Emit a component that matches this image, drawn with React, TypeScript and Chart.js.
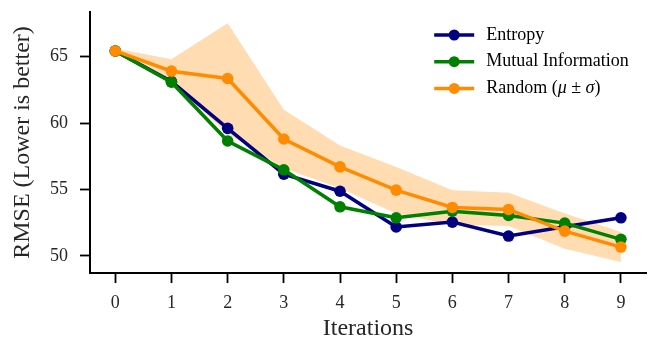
import React, { useEffect, useRef } from "react";
import { Chart, registerables } from "chart.js";

Chart.register(...registerables);

const iterations = [0, 1, 2, 3, 4, 5, 6, 7, 8, 9];
const entropy = [65.42, 63.12, 59.6, 56.15, 54.87, 52.18, 52.55, 51.5, 52.2, 52.87];
const mutualInfo = [65.42, 63.07, 58.65, 56.48, 53.7, 52.87, 53.37, 53.05, 52.47, 51.25];
const randomMean = [65.42, 63.9, 63.35, 58.8, 56.7, 54.95, 53.65, 53.5, 51.87, 50.67];
const randomUpper = [65.6, 64.8, 67.5, 61.0, 58.3, 56.7, 54.95, 54.75, 53.2, 51.8];
const randomLower = [65.25, 63.0, 59.2, 56.6, 55.1, 53.2, 52.35, 52.25, 50.55, 49.55];
const yTicks = [50, 55, 60, 65];

const legendLabels = ["Entropy", "Mutual Information", "Random"];
const colors = ["#000080", "#008000", "#ff8c00"];
const bandColor = "rgba(255,140,0,0.3)";

const FONT = "'Liberation Serif', 'Times New Roman', serif";
const TEXT = "#262626";

const pts = (ys: number[]) => iterations.map((x, i) => ({ x, y: ys[i] }));

const legendPlugin = {
  id: "customLegend",
  afterDatasetsDraw(chart: any) {
    const { ctx, chartArea } = chart;
    const x0 = chartArea.right - 212;
    const rows = [35, 61.7, 88.4];
    ctx.save();
    ctx.font = `18px ${FONT}`;
    ctx.textBaseline = "middle";
    ctx.textAlign = "left";
    legendLabels.forEach((label, i) => {
      const y = rows[i];
      ctx.strokeStyle = colors[i];
      ctx.lineWidth = 3.5;
      ctx.beginPath();
      ctx.moveTo(x0, y);
      ctx.lineTo(x0 + 40, y);
      ctx.stroke();
      ctx.fillStyle = colors[i];
      ctx.beginPath();
      ctx.arc(x0 + 20, y, 5.5, 0, Math.PI * 2);
      ctx.fill();
      ctx.fillStyle = "#000";
      let tx = x0 + 52;
      if (i === 2) {
        const parts: [string, boolean][] = [
          [label + " (", false],
          ["μ", true],
          [" ± ", false],
          ["σ", true],
          [")", false],
        ];
        parts.forEach(([t, it]) => {
          ctx.font = `${it ? "italic " : ""}18px ${FONT}`;
          ctx.fillText(t, tx, y);
          tx += ctx.measureText(t).width;
        });
      } else {
        ctx.fillText(label, tx, y);
      }
    });
    ctx.restore();
  },
};

export default function App() {
  const ref = useRef<HTMLCanvasElement | null>(null);
  useEffect(() => {
    document.body.style.margin = "0";
    const canvas = ref.current!;
    const lineDs = (label: string, data: number[], color: string, order: number) => ({
      label,
      data: pts(data),
      borderColor: color,
      backgroundColor: color,
      borderWidth: 3.5,
      pointRadius: 5.8,
      pointBorderWidth: 0,
      pointBackgroundColor: color,
      fill: false,
      tension: 0,
      order,
    });
    const chart = new Chart(canvas, {
      type: "line",
      data: {
        datasets: [
          lineDs("Random", randomMean, colors[2], 1),
          lineDs("Mutual Information", mutualInfo, colors[1], 2),
          lineDs("Entropy", entropy, colors[0], 3),
          {
            label: "upper",
            data: pts(randomUpper),
            borderWidth: 0,
            borderColor: "transparent",
            pointRadius: 0,
            backgroundColor: bandColor,
            fill: "+1",
            order: 10,
          } as any,
          {
            label: "lower",
            data: pts(randomLower),
            borderWidth: 0,
            borderColor: "transparent",
            pointRadius: 0,
            backgroundColor: bandColor,
            fill: false,
            order: 11,
          } as any,
        ],
      },
      options: {
        responsive: false,
        animation: false,
        devicePixelRatio: 1,
        layout: { padding: { top: 12, right: 4, left: 0, bottom: 0 } },
        plugins: { legend: { display: false }, tooltip: { enabled: false } },
        scales: {
          x: {
            type: "linear",
            min: -0.45,
            max: 9.45,
            afterBuildTicks: (s: any) => {
              s.ticks = iterations.map((v) => ({ value: v }));
            },
            afterFit: (s: any) => {
              s.height = 71;
              s.paddingLeft = 0;
              s.paddingRight = 0;
            },
            grid: {
              drawOnChartArea: false,
              drawTicks: true,
              tickLength: 10,
              tickColor: "#000",
              tickWidth: 1.8,
            },
            border: { display: true, color: "#000", width: 2 },
            ticks: {
              color: TEXT,
              font: { family: FONT, size: 18 },
              padding: 9,
              maxRotation: 0,
              callback: (v: any) => String(v),
            },
            title: {
              display: true,
              text: "Iterations",
              color: TEXT,
              font: { family: FONT, size: 24 },
              padding: { top: 0, bottom: 1 },
            },
          },
          y: {
            type: "linear",
            min: 48.72,
            max: 68.35,
            afterBuildTicks: (s: any) => {
              s.ticks = yTicks.map((v) => ({ value: v }));
            },
            afterFit: (s: any) => {
              s.width = 90;
              s.paddingTop = 0;
              s.paddingBottom = 0;
            },
            grid: {
              drawOnChartArea: false,
              drawTicks: true,
              tickLength: 10,
              tickColor: "#000",
              tickWidth: 1.8,
            },
            border: { display: true, color: "#000", width: 2 },
            ticks: {
              color: TEXT,
              font: { family: FONT, size: 18 },
              padding: 12,
              callback: (v: any) => String(v),
            },
            title: {
              display: true,
              text: "RMSE (Lower is better)",
              color: TEXT,
              font: { family: FONT, size: 24 },
              padding: { top: 8, bottom: 0 },
            },
          },
        },
      },
      plugins: [legendPlugin],
    });
    return () => chart.destroy();
  }, []);
  return (
    <div style={{ position: "absolute", left: 0, top: 0, width: 652, height: 344 }}>
      <canvas ref={ref} width={652} height={344} />
    </div>
  );
}
